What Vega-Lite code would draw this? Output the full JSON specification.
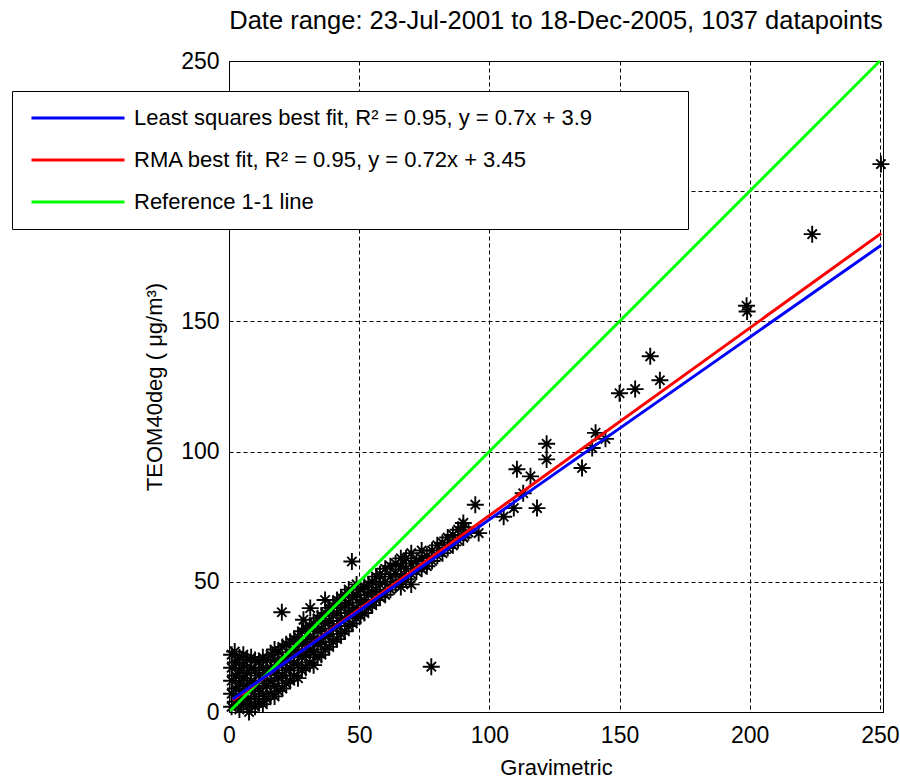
{
  "$schema": "https://vega.github.io/schema/vega-lite/v6.json",
  "width": 654,
  "height": 651,
  "autosize": {"type": "none"},
  "padding": {"left": 229, "top": 61, "right": 17, "bottom": 69},
  "background": "white",
  "title": {"text": "Date range: 23-Jul-2001 to 18-Dec-2005, 1037 datapoints", "font": "Liberation Sans", "fontSize": 25.5, "fontWeight": "normal", "color": "black", "anchor": "middle", "offset": 16},
  "config": {
    "view": {"stroke": "black", "strokeWidth": 1},
    "axis": {"labelFont": "Liberation Sans", "labelFontSize": 23, "labelColor": "black", "titleFont": "Liberation Sans", "titleFontSize": 22, "titleFontWeight": "normal", "titleColor": "black", "domainColor": "black", "domainWidth": 1, "ticks": false, "tickSize": 0, "grid": true, "gridColor": "black", "gridOpacity": 1, "gridDash": [4, 3], "gridWidth": 1, "labelFlush": false, "labelOverlap": false, "labelBound": false}
  },
  "datasets": {
    "pts": [
      {"x":1,"y":2},{"x":1,"y":7},{"x":1,"y":12},{"x":1,"y":17},{"x":1,"y":22},
      {"x":2.5,"y":4},{"x":2.5,"y":9},{"x":2.5,"y":14},{"x":2.5,"y":19},{"x":2.2,"y":23.2},
      {"x":4,"y":1},{"x":4,"y":6},{"x":4,"y":11},{"x":4,"y":16},{"x":4,"y":21},
      {"x":5.5,"y":3},{"x":5.5,"y":8},{"x":5.5,"y":13},{"x":5.5,"y":18},{"x":5.5,"y":22},
      {"x":7.7,"y":0},{"x":7,"y":5},{"x":7,"y":10},{"x":7,"y":15},{"x":7,"y":20},
      {"x":8.5,"y":3},{"x":8.5,"y":8},{"x":8.5,"y":12},{"x":8.5,"y":17},{"x":8.5,"y":21},
      {"x":10,"y":2},{"x":10,"y":6},{"x":10,"y":11},{"x":10,"y":16},{"x":10,"y":20},
      {"x":11.5,"y":4},{"x":11.5,"y":9},{"x":11.5,"y":14},{"x":11.5,"y":19},
      {"x":13,"y":3},{"x":13,"y":7},{"x":13,"y":12},{"x":13,"y":17},{"x":13,"y":21},
      {"x":14.5,"y":5},{"x":14.5,"y":10},{"x":14.5,"y":15},{"x":14.5,"y":20},
      {"x":16,"y":7},{"x":16,"y":12},{"x":16,"y":17},{"x":16,"y":22},
      {"x":17.5,"y":6},{"x":17.5,"y":10},{"x":17.5,"y":15},{"x":17.5,"y":20},{"x":17.5,"y":24},
      {"x":19,"y":8},{"x":19,"y":13},{"x":19,"y":18},{"x":19,"y":23},
      {"x":20.5,"y":9},{"x":20.5,"y":14},{"x":20.5,"y":19},{"x":20.5,"y":25},
      {"x":22,"y":11},{"x":22,"y":16},{"x":22,"y":21},{"x":22,"y":26},
      {"x":23.5,"y":12},{"x":23.5,"y":17},{"x":23.5,"y":22},{"x":23.5,"y":27},
      {"x":25,"y":14},{"x":25,"y":19},{"x":25,"y":24},{"x":25,"y":28},
      {"x":26.5,"y":13},{"x":26.5,"y":18},{"x":26.5,"y":23},{"x":26.5,"y":29},
      {"x":28,"y":16},{"x":28,"y":21},{"x":28,"y":26},{"x":28,"y":31},
      {"x":29.5,"y":17},{"x":29.5,"y":22},{"x":29.5,"y":27},{"x":29.5,"y":32},
      {"x":31,"y":19},{"x":31,"y":24},{"x":31,"y":29},{"x":31,"y":33},
      {"x":32.5,"y":18},{"x":32.5,"y":23},{"x":32.5,"y":28},{"x":32.5,"y":34},
      {"x":34,"y":21},{"x":34,"y":26},{"x":34,"y":31},{"x":34,"y":36},
      {"x":35.5,"y":22},{"x":35.5,"y":27},{"x":35.5,"y":32},{"x":35.5,"y":37},
      {"x":37,"y":24},{"x":37,"y":29},{"x":37,"y":34},{"x":37,"y":38},
      {"x":38.5,"y":25},{"x":38.5,"y":30},{"x":38.5,"y":35},{"x":38.5,"y":40},
      {"x":40,"y":27},{"x":40,"y":32},{"x":40,"y":37},{"x":40,"y":41},
      {"x":41.5,"y":28},{"x":41.5,"y":33},{"x":41.5,"y":38},{"x":41.5,"y":43},
      {"x":43,"y":30},{"x":43,"y":35},{"x":43,"y":40},{"x":43,"y":44},
      {"x":44.5,"y":31},{"x":44.5,"y":36},{"x":44.5,"y":41},{"x":44.5,"y":45},
      {"x":46,"y":33},{"x":46,"y":38},{"x":46,"y":42},{"x":46,"y":47},
      {"x":47.5,"y":34},{"x":47.5,"y":39},{"x":47.5,"y":44},
      {"x":49,"y":36},{"x":49,"y":40},{"x":49,"y":45},{"x":49,"y":49},
      {"x":50.5,"y":37},{"x":50.5,"y":42},{"x":50.5,"y":47},
      {"x":52,"y":38},{"x":52,"y":43},{"x":52,"y":48},
      {"x":53.5,"y":40},{"x":53.5,"y":45},{"x":53.5,"y":49},
      {"x":55,"y":41},{"x":55,"y":46},{"x":55,"y":50},
      {"x":56.5,"y":43},{"x":56.5,"y":47},{"x":56.5,"y":52},
      {"x":58,"y":44},{"x":58,"y":49},{"x":58,"y":53},
      {"x":60,"y":45},{"x":60,"y":50},{"x":60,"y":55},
      {"x":62,"y":47},{"x":62,"y":52},{"x":62,"y":56},
      {"x":64,"y":49},{"x":64,"y":53},{"x":64,"y":57},
      {"x":66,"y":48},{"x":66,"y":52},{"x":66,"y":56},{"x":66,"y":59},
      {"x":68,"y":51},{"x":68,"y":55},{"x":68,"y":59},
      {"x":70,"y":49},{"x":70,"y":53},{"x":70,"y":57},{"x":70,"y":61},
      {"x":72,"y":54},{"x":72,"y":58},
      {"x":74,"y":55},{"x":74,"y":59},{"x":74,"y":62},
      {"x":76,"y":56},{"x":76,"y":60},
      {"x":78,"y":58},{"x":78,"y":62},
      {"x":80,"y":60},{"x":80,"y":64},
      {"x":82,"y":61},{"x":82,"y":65},
      {"x":84,"y":63},{"x":84,"y":67},
      {"x":86,"y":64},{"x":86,"y":68},
      {"x":88,"y":66},{"x":88,"y":70},
      {"x":90,"y":67},{"x":90,"y":71},
      {"x":92,"y":69},
      {"x":20.3,"y":38.3},{"x":28.6,"y":35.4},{"x":31.2,"y":39.9},{"x":36.9,"y":43},{"x":47.2,"y":57.8},
      {"x":77.7,"y":17.4},{"x":94.6,"y":79.6},{"x":95.9,"y":68.7},{"x":90,"y":72.6},{"x":105.5,"y":75},
      {"x":109.4,"y":78.3},{"x":113,"y":84},{"x":118.3,"y":78.3},{"x":110.6,"y":93.2},{"x":115.8,"y":90.5},
      {"x":122,"y":97},{"x":122,"y":103},{"x":135.6,"y":93.7},{"x":139.5,"y":101.4},{"x":140.8,"y":107.2},
      {"x":144.6,"y":104.9},{"x":150,"y":122.4},{"x":156,"y":124},{"x":161.8,"y":136.6},{"x":165.5,"y":127.4},
      {"x":198.8,"y":156},{"x":199,"y":153.8},{"x":224,"y":183.5},{"x":250.4,"y":210.4}
    ],
    "lines": [
      {"series": "Least squares best fit, R² = 0.95, y = 0.7x + 3.9", "x": 1.5, "y": 4.95},
      {"series": "Least squares best fit, R² = 0.95, y = 0.7x + 3.9", "x": 250.5, "y": 179.25},
      {"series": "RMA best fit, R² = 0.95, y = 0.72x + 3.45", "x": 1.5, "y": 4.53},
      {"series": "RMA best fit, R² = 0.95, y = 0.72x + 3.45", "x": 250.5, "y": 183.81},
      {"series": "Reference 1-1 line", "x": 0.5, "y": 0.5},
      {"series": "Reference 1-1 line", "x": 250, "y": 250}
    ]
  },
  "encoding": {
    "x": {"field": "x", "type": "quantitative", "scale": {"domain": [0, 251.2], "nice": false, "zero": false},
      "axis": {"values": [0, 50, 100, 150, 200, 250], "title": "Gravimetric", "labelPadding": 12, "titlePadding": 10}},
    "y": {"field": "y", "type": "quantitative", "scale": {"domain": [0, 250], "nice": false, "zero": false},
      "axis": {"values": [0, 50, 100, 150, 200, 250], "title": "TEOM40deg ( μg/m³)", "labelPadding": 10, "titlePadding": 14}}
  },
  "layer": [
    {
      "data": {"name": "pts"},
      "mark": {"type": "point", "shape": "M-1,0L1,0M0,-1L0,1M-0.55,-0.55L0.55,0.55M-0.55,0.55L0.55,-0.55", "size": 289, "filled": false, "stroke": "black", "strokeWidth": 1.9, "opacity": 1}
    },
    {
      "data": {"name": "lines"},
      "transform": [{"filter": "datum.series === 'Reference 1-1 line'"}],
      "mark": {"type": "line", "strokeWidth": 3},
      "encoding": {"color": {"field": "series", "type": "nominal"}}
    },
    {
      "data": {"name": "lines"},
      "transform": [{"filter": "indexof(datum.series, 'RMA') === 0"}],
      "mark": {"type": "line", "strokeWidth": 3},
      "encoding": {"color": {"field": "series", "type": "nominal"}}
    },
    {
      "data": {"name": "lines"},
      "transform": [{"filter": "indexof(datum.series, 'Least') === 0"}],
      "mark": {"type": "line", "strokeWidth": 3},
      "encoding": {"color": {"field": "series", "type": "nominal",
        "scale": {"domain": ["Least squares best fit, R² = 0.95, y = 0.7x + 3.9", "RMA best fit, R² = 0.95, y = 0.72x + 3.45", "Reference 1-1 line"], "range": ["#0000ff", "#ff0000", "#00ff00"]},
        "legend": {"title": null, "orient": "none", "legendX": -217, "legendY": 30, "strokeColor": "black", "fillColor": "white", "padding": 16, "symbolType": "M-5,0H5", "symbolSize": 346, "symbolStrokeWidth": 3, "symbolOffset": 39, "labelOffset": 45, "labelFont": "Liberation Sans", "labelFontSize": 22, "labelColor": "black", "labelLimit": 2000, "rowPadding": 20, "labelExpr": "datum.label + '\u2800\u2800\u2800\u2800\u2800'"}}}
    }
  ]
}
